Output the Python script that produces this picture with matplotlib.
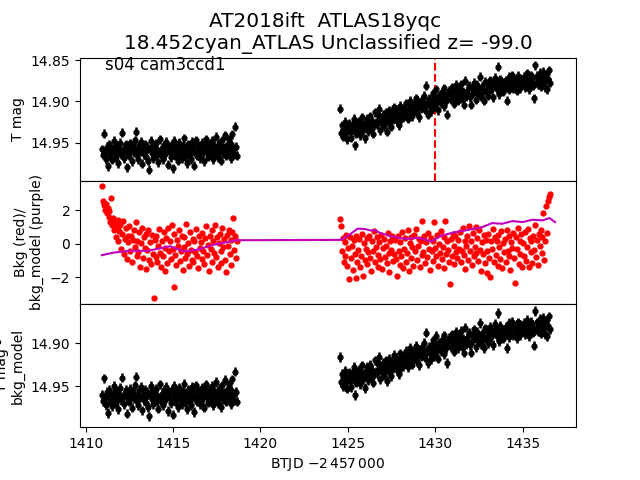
import numpy as np
import matplotlib
matplotlib.use('Agg')
import matplotlib.pyplot as plt

# --- light curve, sector 4 cam3ccd1 (two orbits) ---
# orbit 1 / orbit 2 time span (BTJD)
seg_start = [1410.95, 1424.55]
seg_end = [1418.65, 1436.55]

mag1 = [14.958, 14.965, 14.939, 14.962, 14.970, 14.955, 14.979, 14.961, 14.952, 14.966,
        14.959, 14.971, 14.957, 14.948, 14.963, 14.968, 14.954, 14.960, 14.975, 14.957,
        14.950, 14.964, 14.938, 14.961, 14.969, 14.956, 14.952, 14.980, 14.963, 14.958,
        14.966, 14.951, 14.960, 14.973, 14.955, 14.962, 14.947, 14.937, 14.965, 14.959,
        14.970, 14.953, 14.961, 14.949, 14.976, 14.958, 14.964, 14.952, 14.967, 14.960,
        14.955, 14.972, 14.983, 14.957, 14.948, 14.963, 14.969, 14.954, 14.961, 14.966,
        14.951, 14.959, 14.974, 14.962, 14.946, 14.965, 14.957, 14.970, 14.953, 14.960,
        14.964, 14.949, 14.958, 14.977, 14.955, 14.962, 14.968, 14.952, 14.981, 14.959,
        14.948, 14.966, 14.955, 14.961, 14.972, 14.950, 14.963, 14.957, 14.969, 14.954,
        14.960, 14.945, 14.967, 14.958, 14.975, 14.952, 14.964, 14.956, 14.970, 14.949,
        14.961, 14.955, 14.978, 14.959, 14.947, 14.966, 14.953, 14.962, 14.969, 14.957,
        14.950, 14.964, 14.958, 14.973, 14.955, 14.946, 14.961, 14.967, 14.952, 14.959,
        14.965, 14.948, 14.957, 14.970, 14.954, 14.962, 14.943, 14.958, 14.968, 14.951,
        14.960, 14.955, 14.972, 14.947, 14.963, 14.956, 14.941, 14.966, 14.953, 14.959,
        14.946, 14.962, 14.952, 14.969, 14.940, 14.957, 14.964, 14.931, 14.955, 14.966]

mag2 = [14.909, 14.938, 14.929, 14.943, 14.932, 14.925, 14.940, 14.935, 14.946, 14.930,
        14.927, 14.937, 14.944, 14.929, 14.934, 14.921, 14.953, 14.931, 14.939, 14.926,
        14.933, 14.924, 14.941, 14.928, 14.919, 14.935, 14.930, 14.945, 14.925, 14.931,
        14.921, 14.936, 14.927, 14.918, 14.932, 14.924, 14.939, 14.929, 14.913, 14.926,
        14.928, 14.917, 14.924, 14.909, 14.935, 14.921, 14.926, 14.916, 14.930, 14.923,
        14.913, 14.937, 14.920, 14.926, 14.911, 14.918, 14.931, 14.915, 14.922, 14.907,
        14.919, 14.910, 14.924, 14.914, 14.929, 14.905, 14.917, 14.921, 14.912, 14.920,
        14.908, 14.916, 14.902, 14.913, 14.921, 14.909, 14.899, 14.915, 14.906, 14.918,
        14.912, 14.903, 14.909, 14.896, 14.914, 14.905, 14.919, 14.901, 14.908, 14.898,
        14.899, 14.906, 14.893, 14.910, 14.881, 14.902, 14.916, 14.897, 14.905, 14.912,
        14.895, 14.903, 14.890, 14.908, 14.896, 14.885, 14.901, 14.911, 14.893, 14.899,
        14.902, 14.889, 14.897, 14.884, 14.906, 14.893, 14.899, 14.916, 14.891, 14.887,
        14.889, 14.898, 14.883, 14.894, 14.903, 14.886, 14.896, 14.880, 14.892, 14.899,
        14.885, 14.893, 14.879, 14.897, 14.888, 14.904, 14.890, 14.875, 14.894, 14.887,
        14.892, 14.881, 14.895, 14.904, 14.884, 14.890, 14.877, 14.886, 14.898, 14.883,
        14.880, 14.891, 14.885, 14.870, 14.894, 14.882, 14.888, 14.899, 14.876, 14.887,
        14.889, 14.878, 14.893, 14.883, 14.874, 14.886, 14.880, 14.895, 14.881, 14.871,
        14.876, 14.885, 14.858, 14.880, 14.891, 14.873, 14.884, 14.879, 14.888, 14.877,
        14.883, 14.874, 14.899, 14.879, 14.870, 14.886, 14.877, 14.882, 14.868, 14.884,
        14.873, 14.881, 14.876, 14.887, 14.869, 14.879, 14.884, 14.872, 14.880, 14.875,
        14.879, 14.870, 14.883, 14.875, 14.866, 14.878, 14.885, 14.873, 14.880, 14.868,
        14.872, 14.881, 14.896, 14.856, 14.877, 14.869, 14.879, 14.874, 14.865, 14.882,
        14.870, 14.878, 14.864, 14.876, 14.883, 14.867, 14.885, 14.873, 14.862, 14.877]

mag_err = 0.0055

# background flux (red points)
bkg1 = [3.45, 2.55, 2.30, 2.05, 2.40, 1.85, 2.15, 1.60, 1.95, 1.30,
        2.75, 1.10, 1.55, 0.85, 1.25, 0.40, 0.95, 1.40, 0.20, 0.75,
        1.15, -0.30, 0.60, 1.35, -0.60, 0.30, 0.95, -0.90, 0.45, 0.10,
        1.05, -0.45, 0.50, -1.10, 0.25, 0.85, -0.20, 1.30, -0.75, 0.15,
        -0.50, 0.70, -1.35, 0.05, 0.95, -0.85, 0.40, -0.25, -1.50, 0.60,
        -0.35, 0.80, -0.95, 0.10, -1.20, 0.55, -0.60, -3.25, 0.25, -0.80,
        0.45, -1.05, -0.15, 0.90, -0.55, -1.40, 0.20, -0.70, 0.70, -1.60,
        -0.25, 0.35, -1.15, 0.95, -0.45, 0.15, -0.90, 1.10, -0.30, -2.55,
        0.60, -0.65, -1.25, 0.25, -0.10, 0.85, -1.00, -0.40, 0.50, -1.55,
        -0.20, 0.40, -0.85, 1.20, -0.60, 0.05, -1.30, 0.70, -0.35, -0.95,
        0.30, -1.10, 0.15, -0.50, 0.90, -0.75, -1.45, 0.45, -0.25, 0.10,
        -0.90, 0.65, -0.40, -1.20, 0.35, 1.05, -0.65, -0.05, -1.60, 0.50,
        -0.30, 0.80, -1.05, 0.20, -0.55, 1.15, -0.80, 0.40, -1.35, 0.05,
        0.60, -0.45, -1.15, 0.95, -0.20, 0.30, -0.95, -1.70, 0.55, -0.10,
        0.85, -0.60, 0.25, -1.25, 0.70, 1.55, -0.35, 0.45, -0.85, 0.20]

bkg2 = [1.50, 1.05, -0.40, 0.35, -1.05, 0.10, -0.70, 0.55, -1.30, -0.25,
        -2.10, 0.40, -0.85, -0.15, -1.55, 0.25, -0.60, -2.05, 0.45, -1.10,
        -0.35, 0.30, -1.40, -0.75, 0.60, -1.90, 0.05, -0.95, -0.30, 0.35,
        -1.20, -0.50, 0.50, -0.85, -1.60, 0.15, -0.40, 0.75, -1.05, -0.20,
        0.40, -1.35, -0.65, 0.10, -0.90, 0.55, -1.50, -0.25, 0.30, -0.80,
        -0.10, -1.15, 0.65, -0.55, -1.70, 0.20, -0.35, 0.45, -1.00, -0.60,
        0.25, -0.90, -1.90, 0.50, -0.40, -1.25, 0.10, -0.70, 0.70, -1.45,
        -0.30, 0.35, -1.05, -0.55, 0.80, -1.60, 0.05, -0.85, 0.40, -0.20,
        -1.30, 0.55, -0.45, 0.90, -0.95, -0.15, 0.30, -1.40, 0.15, -0.65,
        1.35, -0.50, 0.45, -1.15, 0.10, -0.80, 0.65, -0.30, -1.55, 0.35,
        -0.45, 0.20, -1.00, 1.30, -0.25, -0.70, 0.55, -1.30, 0.00, -0.55,
        0.75, -0.90, -0.20, 0.40, -1.45, 1.35, -0.60, 0.15, -0.35, -1.05,
        -2.40, 0.30, -0.75, 0.60, -0.10, -1.20, 0.45, -0.50, -0.85, 0.25,
        -0.30, 0.70, -1.10, -0.45, 0.95, -0.65, -1.50, 0.20, -0.15, 0.50,
        -0.95, 1.05, -0.40, 0.15, -1.25, 0.65, -0.70, -0.20, 1.00, -0.55,
        0.35, -1.00, 0.80, -0.35, -1.60, 0.10, -0.60, 0.55, -1.15, 0.25,
        -1.75, -0.45, 0.60, -0.85, -2.00, 0.20, -0.30, 0.90, -1.05, 0.40,
        -0.65, 0.15, -1.30, 0.55, -0.20, -0.90, 0.75, -1.45, 0.05, -0.50,
        0.30, -1.10, 0.85, -0.40, -0.75, 0.45, -1.55, 0.10, -0.25, 0.65,
        -0.85, -2.30, 0.40, -0.30, 0.95, -1.20, 0.20, -0.60, 0.60, -1.40,
        0.05, -0.70, 0.70, -1.00, -0.20, 0.90, -1.35, 0.35, -0.50, 0.15,
        -1.15, 0.50, -0.35, 1.10, -0.80, 0.25, -1.25, 0.60, -0.10, 0.85,
        -0.55, 0.40, 1.85, -0.95, 0.20, 2.25, 0.65, 2.55, 2.80, 2.95]

# background model (purple line)
model_t = [1410.93, 1411.59, 1412.55, 1413.50, 1414.84, 1415.60, 1416.37, 1417.33,
           1418.09, 1418.47, 1418.65, 1424.58, 1425.07, 1425.56, 1425.94, 1426.30,
           1426.52, 1426.88, 1427.48, 1428.25, 1429.00, 1429.79, 1430.37, 1431.13,
           1431.90, 1432.68, 1433.25, 1433.83, 1434.41, 1434.99, 1435.56, 1436.14,
           1436.53, 1436.85]
model_v = [-0.67, -0.52, -0.40, -0.42, -0.14, -0.45, -0.35, -0.05,
           0.10, 0.20, 0.22, 0.24, 0.53, 0.91, 0.89, 0.80,
           0.82, 0.64, 0.46, 0.30, 0.36, 0.16, 0.50, 0.70,
           0.84, 1.00, 1.24, 1.20, 1.36, 1.30, 1.44, 1.40,
           1.54, 1.30]

# shift of (T mag - bkg_model) relative to T mag, per orbit
sub_shift = [0.002, 0.007]

t1 = np.linspace(seg_start[0], seg_end[0], len(mag1))
t2 = np.linspace(seg_start[1], seg_end[1], len(mag2))
t = np.concatenate([t1, t2])
mag = np.concatenate([mag1, mag2])
bkg = np.concatenate([bkg1, bkg2])
mag_sub = np.concatenate([np.array(mag1) + sub_shift[0], np.array(mag2) + sub_shift[1]])

fig, (ax1, ax2, ax3) = plt.subplots(3, 1, sharex=True)
plt.subplots_adjust(hspace=0)

ax1.errorbar(t, mag, yerr=mag_err, fmt='k.', ms=7, elinewidth=1.8)
ax1.axvline(1430, color='r', ls='--')
ax1.set_ylim(14.9965, 14.8467)
ax1.set_yticks([14.85, 14.90, 14.95])
ax1.set_ylabel('T mag')
ax1.set_title('AT2018ift  ATLAS18yqc \n18.452cyan_ATLAS Unclassified z= -99.0', fontsize=14.4)
ax1.text(0.05, 0.9, 's04 cam3ccd1', transform=ax1.transAxes, fontsize=12)

ax2.plot(t, bkg, 'r.', ms=7)
ax2.plot(model_t, model_v, 'm-')
ax2.set_ylim(-3.58, 3.76)
ax2.set_yticks([-2, 0, 2])
ax2.set_ylabel('Bkg (red)/\nbkg_model (purple)')

ax3.errorbar(t, mag_sub, yerr=mag_err, fmt='k.', ms=7, elinewidth=1.8)
ax3.set_ylim(14.9976, 14.8547)
ax3.set_yticks([14.90, 14.95])
ax3.set_ylabel('T mag -\nbkg_model')
ax3.set_xlabel('BTJD $-2\\,457\\,000$')

for ax in (ax1, ax2):
    ax.tick_params(axis='x', bottom=False, labelbottom=False)
ax3.set_xlim(1409.68, 1438.05)
ax3.set_xticks([1410, 1415, 1420, 1425, 1430, 1435])

plt.savefig('out.png')
